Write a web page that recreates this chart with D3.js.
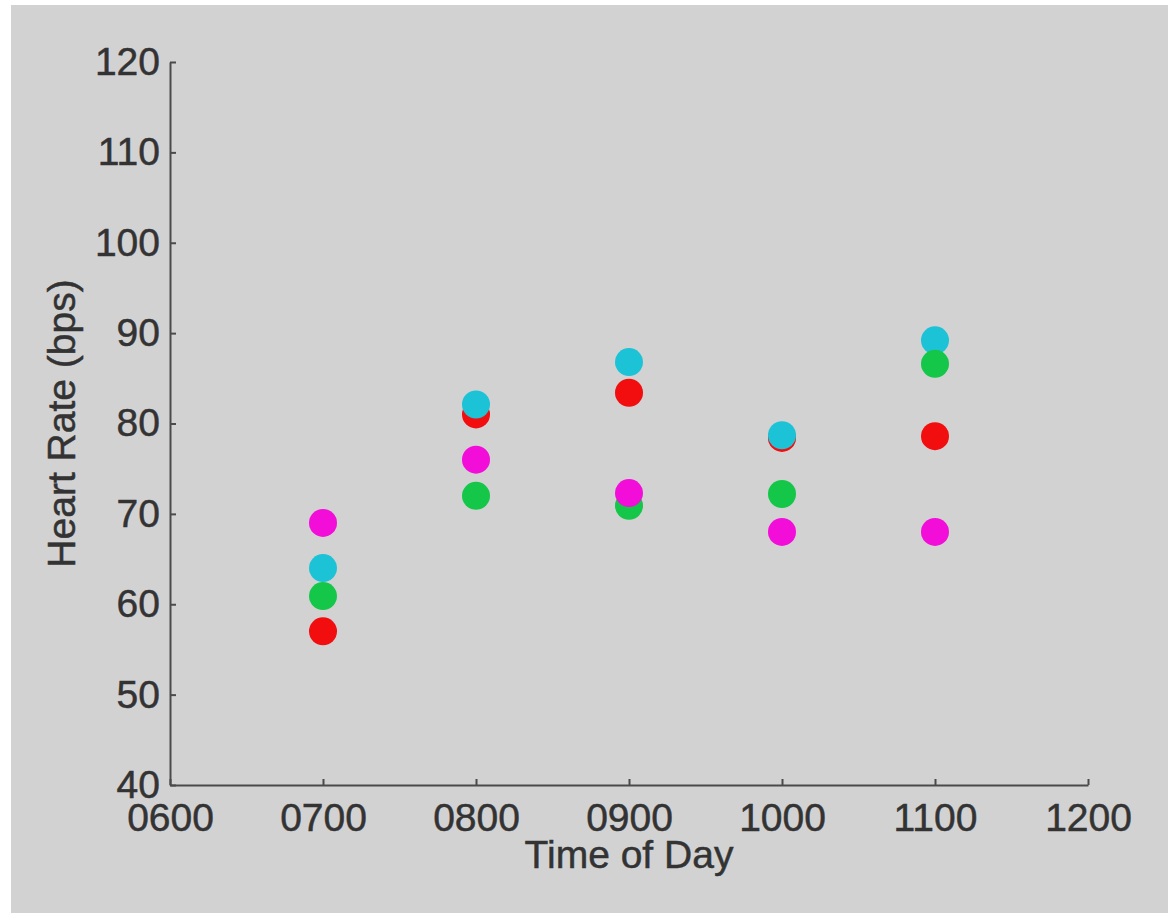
<!DOCTYPE html>
<html>
<head>
<meta charset="utf-8">
<script src="https://cdn.jsdelivr.net/npm/d3@7"></script>
<style>
  body { margin: 0; background: #ffffff; }
  svg { display: block; }
  .axis path, .axis line { stroke: #4a4a4a; stroke-width: 2px; }
  .axis text { font-family: "Liberation Sans", Arial, sans-serif; font-size: 39px; fill: #333333; stroke: #333333; stroke-width: 0.5px; }
  .title { font-family: "Liberation Sans", Arial, sans-serif; font-size: 39px; fill: #333333; stroke: #333333; stroke-width: 0.5px; }
</style>
</head>
<body>
<div id="chart"></div>
<script>
   // time of day (hhmm) for every reading
   var times = [700, 800, 900, 1000, 1100];
   // heart rate per subject
   var redValues = [57, 81, 83.4, 78.4, 78.6];
   var cyanValues = [64, 82.1, 86.8, 78.7, 89.2];
   var greenValues = [60.9, 72, 70.9, 72.2, 86.6];
   var magentaValues = [69, 76, 72.3, 68, 68];
   var xTicks = [600, 700, 800, 900, 1000, 1100, 1200];
   var yTicks = [40, 50, 60, 70, 80, 90, 100, 110, 120];

   // drawing order matches the overlap in the picture
   var series = [
      { name: "red", color: "#f20d0f", values: redValues },
      { name: "cyan", color: "#1cc3d6", values: cyanValues },
      { name: "green", color: "#14c748", values: greenValues },
      { name: "magenta", color: "#f20ed8", values: magentaValues }
   ];

   var width = 1168, height = 913;
   var margin = { top: 62, right: 80, bottom: 128, left: 170 };
   var adjustedWidth = width - margin.left - margin.right;
   var adjustedHeight = height - margin.top - margin.bottom;

   var xScale = d3.scaleLinear()
      .domain([600, 1200])
      .range([0, adjustedWidth]);

   var yScale = d3.scaleLinear()
      .domain([40, 120])
      .range([adjustedHeight, 0]);

   var svg = d3.select("#chart")
      .append("svg")
      .attr("width", width)
      .attr("height", height);

   // gray backdrop of the screenshot
   svg.append("rect")
      .attr("x", 11)
      .attr("y", 5)
      .attr("width", width - 11)
      .attr("height", height - 5)
      .attr("fill", "#d2d2d3");

   var focus = svg.append("g")
      .attr("transform", "translate(" + margin.left + "," + margin.top + ")");

   var xAxis = d3.axisBottom(xScale)
      .tickValues(xTicks)
      .tickFormat(d3.format("04d"))
      .tickSizeInner(-6)
      .tickSizeOuter(0)
      .tickPadding(18);

   var yAxis = d3.axisLeft(yScale)
      .tickValues(yTicks)
      .tickSizeInner(-6)
      .tickSizeOuter(0)
      .tickPadding(10);

   focus.append("g")
      .attr("class", "axis axis--x")
      .attr("transform", "translate(0," + adjustedHeight + ")")
      .call(xAxis);

   focus.append("g")
      .attr("class", "axis axis--y")
      .call(yAxis);

   focus.selectAll(".axis text").attr("fill", null);

   // dots
   series.forEach(function (s) {
      focus.append("g")
         .attr("class", "series " + s.name)
         .selectAll("circle")
         .data(s.values)
         .enter()
         .append("circle")
         .attr("r", 14)
         .attr("cx", function (d, i) { return xScale(times[i]); })
         .attr("cy", function (d) { return yScale(d); })
         .attr("fill", s.color);
   });

   // axis titles
   focus.append("text")
      .attr("class", "title")
      .attr("x", adjustedWidth / 2)
      .attr("y", adjustedHeight + 83)
      .attr("text-anchor", "middle")
      .text("Time of Day");

   focus.append("text")
      .attr("class", "title")
      .attr("transform", "translate(" + (-95) + "," + (adjustedHeight / 2) + ") rotate(-90)")
      .attr("text-anchor", "middle")
      .text("Heart Rate (bps)");
</script>
</body>
</html>
